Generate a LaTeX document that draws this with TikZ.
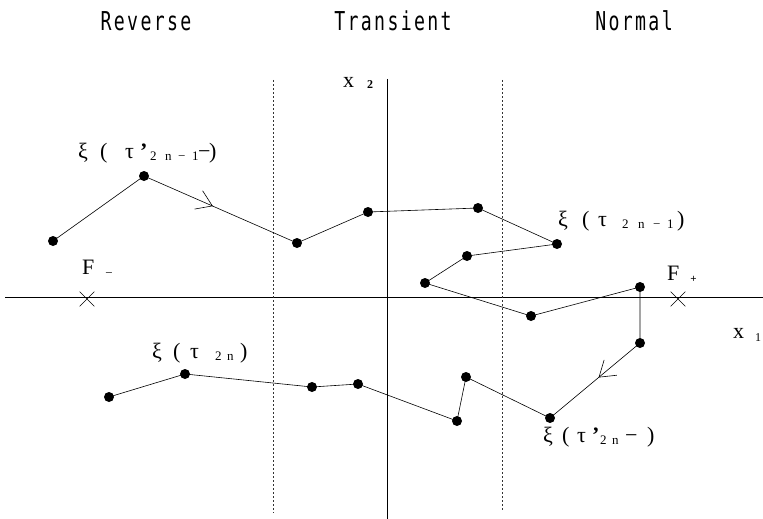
\documentclass[tikz,border=0pt]{standalone}
\usepackage{fontspec}
\setmainfont{Liberation Serif}
\newfontfamily\plotfont[FakeStretch=0.7,LetterSpace=9]{DejaVu Sans Mono}
\usetikzlibrary{arrows.meta,decorations.markings,shapes.misc}
\newcommand\bx[2]{\makebox[#1pt][l]{#2}}
\newcommand\sbx[2]{\makebox[#1pt][l]{\raisebox{-2pt}{\fontsize{13}{13}\selectfont #2}}}
\begin{document}
\begin{tikzpicture}[x=1pt,y=-1pt,
  dot/.style={circle,fill=black,inner sep=0pt,minimum size=10pt},
  trace/.style={line width=0.6pt},
  axis/.style={line width=0.8pt},
  bound/.style={line width=0.6pt,dash pattern=on 2pt off 2pt,black!80},
  lbl/.style={inner sep=0pt,anchor=base west,font=\fontsize{22}{22}\selectfont},
  head/.style={font=\plotfont\fontsize{26}{26}\selectfont,inner sep=0pt},
  fix/.style={cross out,draw,line width=0.6pt,minimum size=14pt,inner sep=0pt},
  midarrow/.style={postaction={decorate},decoration={markings,mark=at position #1 with {\arrow{Straight Barb[length=15pt,width=20pt,line width=0.6pt]}}}}
]
\useasboundingbox (0,0) rectangle (763,519);
% headings
\node[head] (rev) at (146,21) {Reverse};
\node[head] (tra) at (393,21) {Transient};
\node[head] (nor) at (634,21) {Normal};
% axes and boundaries
\coordinate (xl) at (5,297);
\coordinate (xr) at (763,297);
\coordinate (yt) at (387,79);
\coordinate (yb) at (387,519);
\coordinate (d1t) at (273,80);
\coordinate (d1b) at (273,513);
\coordinate (d2t) at (502,80);
\coordinate (d2b) at (502,510);
\draw[axis] (xl) -- (xr);
\draw[axis] (yt) -- (yb);
\draw[bound] (d1t) -- (d1b);
\draw[bound] (d2t) -- (d2b);
% fixed points
\node[fix] (fm) at (87,299) {};
\node[fix] (fp) at (678,299) {};
% trajectory points
\node[dot] (p1) at (53,241) {};
\node[dot] (p2) at (144,176) {};
\node[dot] (p3) at (297,243) {};
\node[dot] (p4) at (368,212) {};
\node[dot] (p5) at (478,208) {};
\node[dot] (p6) at (557,244) {};
\node[dot] (p7) at (467,256) {};
\node[dot] (p8) at (425,283) {};
\node[dot] (p9) at (531,316) {};
\node[dot] (p10) at (640,287) {};
\node[dot] (p11) at (640,343) {};
\node[dot] (p12) at (550,418) {};
\node[dot] (p13) at (466,377) {};
\node[dot] (p14) at (457,421) {};
\node[dot] (p15) at (358,384) {};
\node[dot] (p16) at (312,387) {};
\node[dot] (p17) at (185,374) {};
\node[dot] (p18) at (109,397) {};
\draw[trace] (p1.center) -- (p2.center);
\draw[trace,midarrow=0.45] (p2.center) -- (p3.center);
\draw[trace] (p3.center) -- (p4.center) -- (p5.center) -- (p6.center) -- (p7.center) -- (p8.center) -- (p9.center) -- (p10.center) -- (p11.center);
\draw[trace,midarrow=0.46] (p11.center) -- (p12.center);
\draw[trace] (p12.center) -- (p13.center) -- (p14.center) -- (p15.center) -- (p16.center) -- (p17.center) -- (p18.center);
% labels
\node[lbl] (l1) at (78,158) {\bx{22}{ξ}\bx{25}{(}\bx{15}{τ}\bx{10}{\textbf{’}}\sbx{15}{2}\sbx{13}{n}\sbx{14}{−}\sbx{6}{1}\bx{11}{−})};
\node[lbl] (l2) at (558,226) {\bx{24}{ξ}\bx{16}{(}\bx{24}{τ}\sbx{16}{2}\sbx{15}{n}\sbx{14}{−}\sbx{10}{1})};
\node[lbl] (l3) at (152,358) {\bx{21}{ξ}\bx{17}{(}\bx{25}{τ}\sbx{12}{2}\sbx{13}{n})};
\node[lbl] (l4) at (543,442) {\bx{19}{ξ}\bx{15}{(}\bx{15}{τ}\bx{8}{\textbf{’}}\sbx{12}{2}\sbx{13}{n}\bx{22}{−})};
\node[lbl] (lfm) at (82,274) {F\hspace{11pt}\raisebox{-3pt}{\fontsize{13}{13}\selectfont −}};
\node[lbl] (lfp) at (667,280) {F\hspace{11pt}\raisebox{-2pt}{\fontsize{11}{11}\selectfont\textbf{+}}};
\node[lbl] (lx1) at (733,338) {x\hspace{11pt}\raisebox{-3pt}{\fontsize{12}{12}\selectfont 1}};
\node[lbl] (lx2) at (343,88) {x\hspace{13pt}\raisebox{-1pt}{\fontsize{12}{12}\selectfont\textbf{2}}};
\end{tikzpicture}
\end{document}
